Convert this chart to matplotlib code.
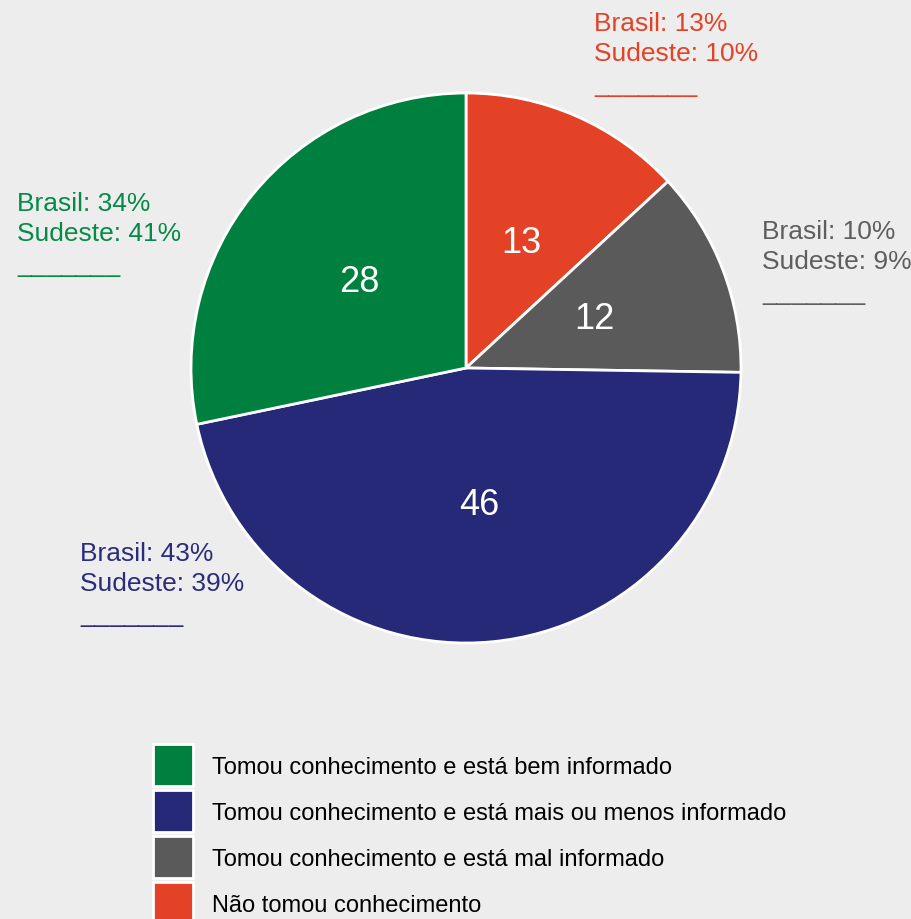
import matplotlib
matplotlib.use("Agg")
import matplotlib.pyplot as plt
from matplotlib.patches import Rectangle

plt.rcParams['font.family'] = ['Liberation Sans', 'DejaVu Sans']

# wedge order: clockwise from the top
categories = ["Não tomou conhecimento",
              "Tomou conhecimento e está mal informado",
              "Tomou conhecimento e está mais ou menos informado",
              "Tomou conhecimento e está bem informado"]
values = [13, 12, 46, 28]
colors = ["#e34226", "#5a5a5a", "#262878", "#00803e"]
text_colors = ["#e34226", "#5e5e5e", "#2b2d7c", "#068a48"]
brasil = [13, 10, 43, 34]
sudeste = [10, 9, 39, 41]
legend_order = [3, 2, 1, 0]

# label anchor (left, top) in pixels
label_pos = [(594, 12), (762, 220), (80, 542), (17, 192)]

W, H = 912, 920
fig = plt.figure(figsize=(W / 100, H / 100), dpi=100)
fig.patch.set_facecolor("#ededed")
ax = fig.add_axes([0, 0, 1, 1])
ax.set_facecolor("#ededed")

total = sum(values)
wedges, _, autotexts = ax.pie(
    values, colors=colors, startangle=90, counterclock=False,
    center=(466, H - 369), radius=275, frame=True,
    wedgeprops=dict(edgecolor="white", linewidth=2),
    autopct=lambda p: f"{p * total / 100:.0f}", pctdistance=0.5,
    textprops=dict(color="white", fontsize=26))

ax.set_xlim(0, W)
ax.set_ylim(0, H)
ax.set_aspect("equal")
ax.axis("off")

for i in range(len(values)):
    x, y = label_pos[i]
    ax.text(x, H - y, f"Brasil: {brasil[i]}%\nSudeste: {sudeste[i]}%\n_______",
            color=text_colors[i], fontsize=19, ha="left", va="top",
            linespacing=1.33)

# legend drawn by hand: square + label per row
for row, i in enumerate(legend_order):
    top = 745 + row * 46
    ax.add_patch(Rectangle((153, H - top - 42), 40, 42, facecolor=colors[i],
                           edgecolor="white", linewidth=2, clip_on=False))
    ax.text(212, H - top - 23, categories[i], fontsize=17, color="black",
            ha="left", va="center")

fig.savefig("out.png", dpi=100, facecolor=fig.get_facecolor())
